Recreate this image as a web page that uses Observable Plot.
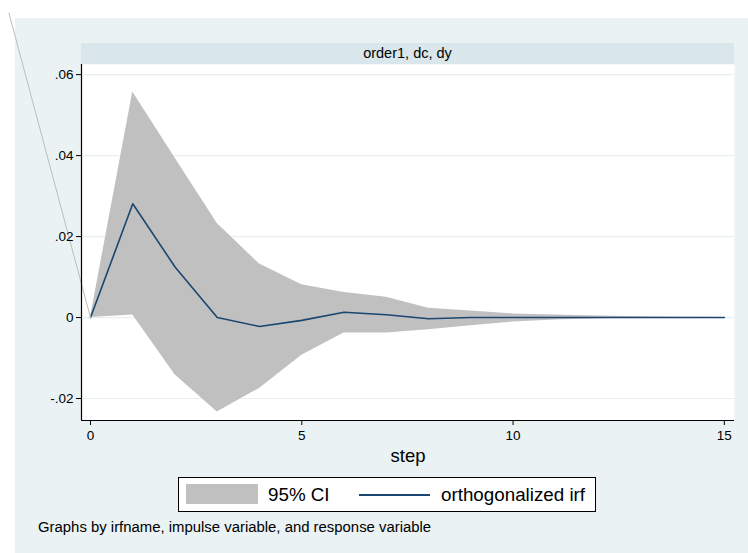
<!DOCTYPE html>
<html>
<head>
<meta charset="utf-8">
<script src="https://cdn.jsdelivr.net/npm/d3@7"></script>
<script src="https://cdn.jsdelivr.net/npm/@observablehq/plot@0.6"></script>
<style>
  html, body { margin: 0; padding: 0; background: #ffffff; width: 748px; height: 553px; overflow: hidden; font-family: "Liberation Sans", Arial, sans-serif; }
  #page { position: relative; width: 748px; height: 553px; }
  #bg { position: absolute; left: 15px; top: 18px; width: 733px; height: 535px; background: #EAF2F3; }
  #strip { position: absolute; left: 81px; top: 43px; width: 653px; height: 21px; background: #D9E6EB; color: #000; font-size: 14.5px; line-height: 21px; text-align: center; }
  #chart { position: absolute; left: 0; top: 0; }
  #legend { position: absolute; left: 178px; top: 477px; width: 416px; height: 33px; background: #fff; border: 1px solid #000; }
  .sw { position: absolute; left: 7px; top: 6px; width: 72px; height: 20px; background: #C0C0C0; }
  .ln { position: absolute; left: 180px; top: 16px; width: 71px; height: 0; border-top: 2px solid #1A476F; }
  .lt { position: absolute; top: 0; line-height: 33px; font-size: 18.8px; color: #000; white-space: nowrap; }
  #caption { position: absolute; left: 38px; top: 519px; font-size: 14.9px; color: #000; white-space: nowrap; }
</style>
</head>
<body>
<div id="page">
  <div id="bg"></div>
  <div id="strip"></div>
  <div id="chart"></div>
  <div id="legend">
    <div class="sw"></div>
    <div class="lt" id="lt1" style="left:89px;"></div>
    <div class="ln"></div>
    <div class="lt" id="lt2" style="left:262px;"></div>
  </div>
  <div id="caption"></div>
</div>
<script>
// ---- data ----
const steps = [0, 1, 2, 3, 4, 5, 6, 7, 8, 9, 10, 11, 12, 13, 14, 15];
const irf   = [0, 0.0281, 0.0125, 0.0000, -0.0022, -0.0007, 0.0013, 0.0007, -0.0003, 0.0000, 0.0000, 0.0000, 0.0000, 0.0000, 0.0000, 0.0000];
const ciHi  = [0, 0.0557, 0.0394, 0.0232, 0.0132, 0.0081, 0.0062, 0.0050, 0.0023, 0.0016, 0.0009, 0.0006, 0.0004, 0.0002, 0.0001, 0.0000];
const ciLo  = [0, 0.0006, -0.0141, -0.0233, -0.0175, -0.0093, -0.0038, -0.0038, -0.0030, -0.0020, -0.0011, -0.0006, -0.0003, -0.0001, -0.0001, 0.0000];
const xTicks = [0, 5, 10, 15];
const yTicks = [-0.02, 0, 0.02, 0.04, 0.06];
const yTickLabels = ["-.02", "0", ".02", ".04", ".06"];
const strayX = [-1.93, 0];
const strayY = [0.0752, 0];
const panelTitle = "order1, dc, dy";
const xTitle = "step";
const legendLabels = ["95% CI", "orthogonalized irf"];
const captionText = "Graphs by irfname, impulse variable, and response variable";

const xDomain = [-0.213, 15.24];
const yDomain = [-0.02543, 0.0625];

const data = steps.map((s, i) => ({step: s, irf: irf[i], lo: ciLo[i], hi: ciHi[i]}));
const stray = strayX.map((x, i) => ({x, y: strayY[i]}));

document.getElementById("strip").textContent = panelTitle;
document.getElementById("lt1").textContent = legendLabels[0];
document.getElementById("lt2").textContent = legendLabels[1];
document.getElementById("caption").textContent = captionText;

const chart = Plot.plot({
  width: 748,
  height: 475,
  marginLeft: 81,
  marginRight: 14,
  marginTop: 64,
  marginBottom: 55,
  style: {background: "transparent", fontFamily: "Liberation Sans, Arial, sans-serif", color: "#000"},
  x: {domain: xDomain},
  y: {domain: yDomain},
  marks: [
    Plot.frame({fill: "white", stroke: null}),
    Plot.ruleY(yTicks, {stroke: "#E8EFF2", strokeWidth: 1.2}),
    Plot.areaY(data, {x: "step", y1: "lo", y2: "hi", fill: "#C0C0C0", curve: "linear"}),
    Plot.lineY(data, {x: "step", y: "irf", stroke: "#1A476F", strokeWidth: 1.6}),
    Plot.line(stray, {x: "x", y: "y", stroke: "#BDBDBD", strokeWidth: 1}),
    Plot.ruleX([xDomain[0]], {stroke: "#000", strokeWidth: 1.2}),
    Plot.ruleY([yDomain[0]], {stroke: "#000", strokeWidth: 1.2}),
    Plot.axisY({ticks: yTicks, tickFormat: (d) => yTickLabels[yTicks.indexOf(d)], tickSize: 5, tickPadding: 3, fontSize: 13.5, label: null, stroke: "#000"}),
    Plot.axisX({ticks: xTicks, tickFormat: d => String(d), tickSize: 5, tickPadding: 5, fontSize: 13.5, label: null, stroke: "#000"}),
    Plot.text([xTitle], {text: d => d, frameAnchor: "bottom", dy: 41, fontSize: 18.5, fill: "#000"})
  ]
});
document.getElementById("chart").appendChild(chart);
</script>
</body>
</html>
